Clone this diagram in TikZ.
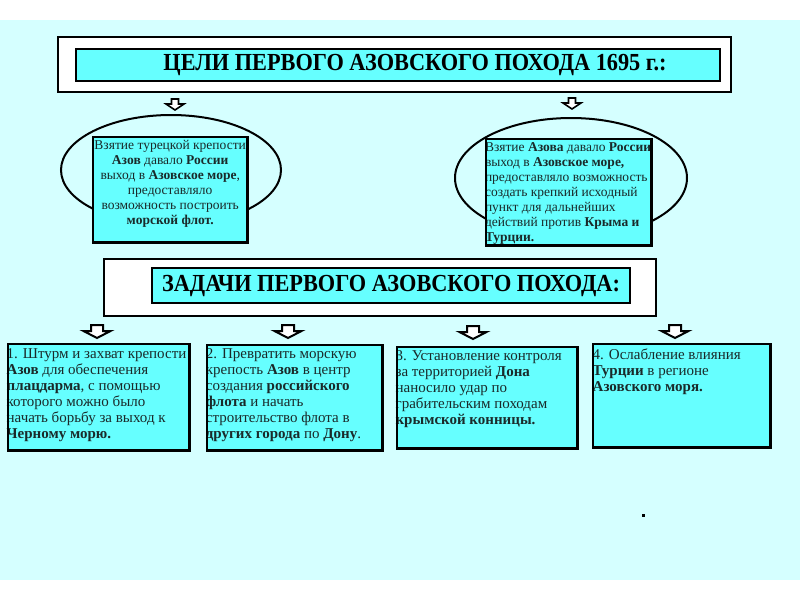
\documentclass[tikz,border=0pt]{standalone}
\usepackage{fontspec}
\setmainfont{Liberation Serif}
\usetikzlibrary{shapes.geometric}
\definecolor{bgcyan}{HTML}{D5FFFF}
\definecolor{boxcyan}{HTML}{66FFFF}
\definecolor{txt}{HTML}{1A2A2A}
\newcommand{\tbx}[3]{\parbox[c][#2pt][t]{#1pt}{#3}}
\newcommand{\fl}[1]{\rule{0pt}{#1pt}}
\newcommand{\cond}[1]{\scalebox{0.91}[1]{#1}}
\begin{document}
\begin{tikzpicture}[x=1pt,y=-1pt,
  outerbox/.style={draw, line width=2.4pt, fill=white, inner sep=0pt},
  titlebox/.style={draw, line width=2.4pt, fill=boxcyan, inner sep=0pt,
    font=\bfseries\fontsize{24.5}{26}\selectfont},
  ebox/.style={fill=boxcyan, anchor=north west, inner ysep=0pt, text=txt,
    font=\fontsize{13.5}{15}\selectfont},
  tbox/.style={fill=boxcyan, anchor=north west, inner ysep=0pt, text=txt,
    font=\fontsize{15}{16}\selectfont},
  border/.style={draw, line width=2.4pt},
  oval/.style={ellipse, draw, line width=2pt, inner sep=0pt},
  pics/smallarrow/.style={code={
    \draw[line width=1.6pt, fill=white, line join=miter]
      (-3.5,-11) -- (3.5,-11) -- (3.5,-6) -- (9,-6) -- (0,0) -- (-9,-6) -- (-3.5,-6) -- cycle;}},
  pics/bigarrow/.style={code={
    \draw[line width=2pt, fill=white, line join=miter]
      (-6,-13) -- (6,-13) -- (6,-7) -- (13.5,-7) -- (0,0) -- (-13.5,-7) -- (-6,-7) -- cycle;}}
]
\useasboundingbox (0,0) rectangle (800,600);
\fill[bgcyan] (0,20) rectangle (800,580);

% first title
\node[outerbox, minimum width=673, minimum height=55] (t1o) at (394.5,64.5) {};
\node[titlebox, minimum width=644, minimum height=32] (t1) at (398,65)
  {\hspace*{34pt}\cond{ЦЕЛИ ПЕРВОГО АЗОВСКОГО ПОХОДА 1695 г.:}};

% arrows to goals
\coordinate (a1) at (175,110);
\coordinate (a2) at (572,109);
\pic at (a1) {smallarrow};
\pic at (a2) {smallarrow};

% goal ellipses
\node[oval, minimum width=220, minimum height=110] (e1) at (171,170) {};
\node[oval, minimum width=232, minimum height=120] (e2) at (571,178) {};

\node[ebox, inner xsep=0pt] (g1) at (93,137) {\tbx{154}{105}{\centering
\fl{12.5}Взятие турецкой крепости\\
\textbf{Азов} давало \textbf{России}\\
выход в \textbf{Азовское море},\\
предоставляло\\
возможность построить\\
\textbf{морской флот.}}};
\draw[border] (g1.south west) rectangle (g1.north east);

\node[ebox, inner xsep=-1.2pt] (g2) at (486,139) {\tbx{167.4}{106}{\raggedright
\fl{12}Взятие \textbf{Азова} давало \textbf{России}\\
выход в \textbf{Азовское море,}\\
предоставляло возможность\\
создать крепкий исходный\\
пункт для дальнейших\\
действий против \textbf{Крыма и}\\
\textbf{Турции.}}};
\draw[border] (g2.south west) rectangle (g2.north east);

% second title
\node[outerbox, minimum width=552, minimum height=57] (t2o) at (380,287.5) {};
\node[titlebox, minimum width=478, minimum height=35] (t2) at (391,285.5)
  {\cond{ЗАДАЧИ ПЕРВОГО АЗОВСКОГО ПОХОДА:}};

% arrows to tasks
\coordinate (b1) at (97,338);
\coordinate (b2) at (288,338);
\coordinate (b3) at (473,339);
\coordinate (b4) at (675,338);
\foreach \c in {b1,b2,b3,b4} \pic at (\c) {bigarrow};

% tasks
\node[tbox, inner xsep=-1.5pt] (k1) at (8,344) {\tbx{184}{106}{\raggedright
\fl{14}1. Штурм и захват крепости\\
\textbf{Азов} для обеспечения\\
\textbf{плацдарма}, с помощью\\
которого можно было\\
начать борьбу за выход к\\
\textbf{Черному морю.}}};
\draw[border] (k1.south west) rectangle (k1.north east);

\node[tbox, inner xsep=-1.3pt] (k2) at (207,345) {\tbx{177.6}{105}{\raggedright
\fl{13}2. Превратить морскую\\
крепость \textbf{Азов} в центр\\
создания \textbf{российского}\\
\textbf{флота} и начать\\
строительство флота в\\
\textbf{других города} по \textbf{Дону}.}};
\draw[border] (k2.south west) rectangle (k2.north east);

\node[tbox, inner xsep=-1.6pt] (k3) at (397,347) {\tbx{183.2}{101}{\raggedright
\fl{13}3. Установление контроля\\
за территорией \textbf{Дона}\\
наносило удар по\\
грабительским походам\\
\textbf{крымской конницы.}}};
\draw[border] (k3.south west) rectangle (k3.north east);

\node[tbox, inner xsep=-0.5pt] (k4) at (593,344) {\tbx{178}{103}{\raggedright
\fl{15}4. Ослабление влияния\\
\textbf{Турции} в регионе\\
\textbf{Азовского моря.}}};
\draw[border] (k4.south west) rectangle (k4.north east);

% small dot
\fill (641.5,513.5) rectangle (644.5,516.5);
\end{tikzpicture}
\end{document}
